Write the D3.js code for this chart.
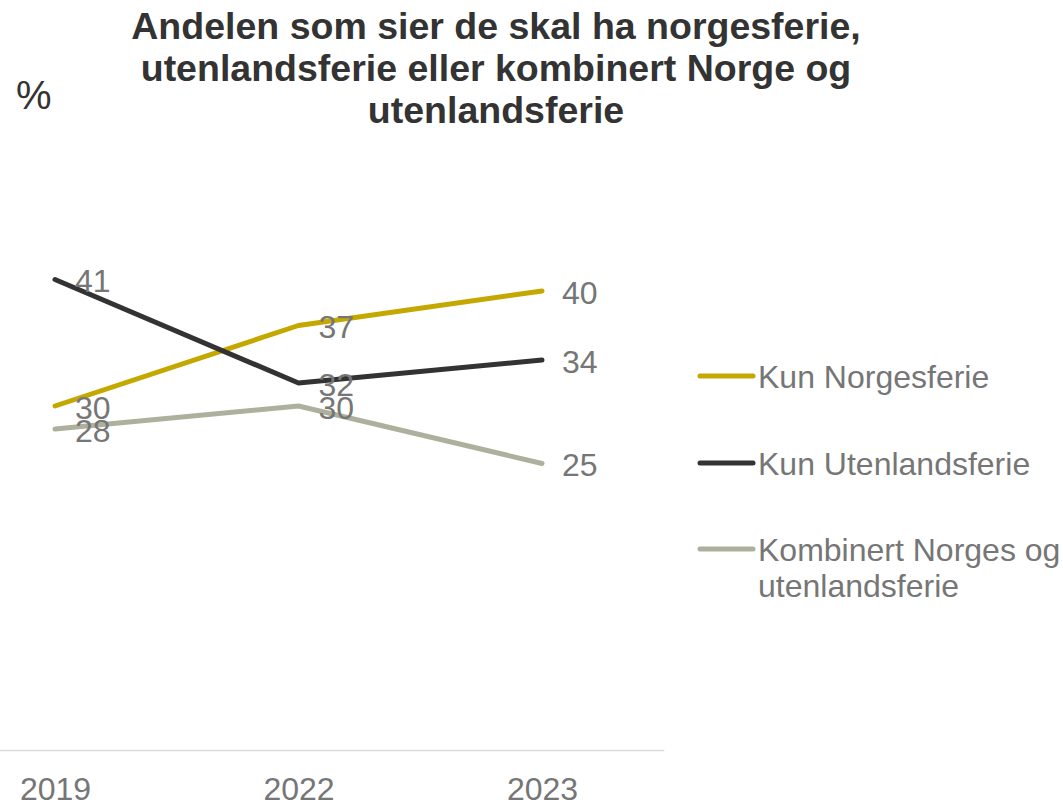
<!DOCTYPE html>
<html>
<head>
<meta charset="utf-8">
<script src="https://cdn.jsdelivr.net/npm/d3@7"></script>
<style>
  html, body { margin: 0; padding: 0; background: #ffffff; }
  svg { display: block; font-family: "Liberation Sans", Arial, sans-serif; }
</style>
</head>
<body>
<svg id="chart" width="1063" height="803"></svg>
<script>
// ---- data ----
const years = ["2019", "2022", "2023"];
const kunNorgesferie = [30, 37, 40];
const kunUtenlandsferie = [41, 32, 34];
const kombinert = [28, 30, 25];
const seriesNames = ["Kun Norgesferie", "Kun Utenlandsferie", "Kombinert Norges og utenlandsferie"];
const legendLines = [["Kun Norgesferie"], ["Kun Utenlandsferie"], ["Kombinert Norges og", "utenlandsferie"]];
const seriesColors = ["#C4A800", "#333333", "#AEB09E"];
const titleLines = ["Andelen som sier de skal ha norgesferie,", "utenlandsferie eller kombinert Norge og", "utenlandsferie"];

const series = [kunNorgesferie, kunUtenlandsferie, kombinert];

const svg = d3.select("#chart");

// scales
const x = d3.scalePoint().domain(years).range([-66.75, 663.75]).padding(0.5);
const y = d3.scaleLinear().domain([0, 60]).range([751, 61]);

// title
svg.append("text")
  .attr("x", 496).attr("y", 39)
  .attr("text-anchor", "middle")
  .attr("font-size", 37.5).attr("font-weight", "bold").attr("fill", "#333333")
  .selectAll("tspan").data(titleLines).join("tspan")
  .attr("x", 496).attr("dy", (d, i) => i === 0 ? 0 : 42)
  .text(d => d);

// percent sign
svg.append("text")
  .attr("x", 16).attr("y", 109)
  .attr("font-size", 40).attr("fill", "#333333")
  .text("%");

// x axis
const axis = svg.append("g")
  .attr("transform", "translate(0,750)")
  .call(d3.axisBottom(x).tickSize(0).tickPadding(0));
axis.select(".domain").attr("stroke", "#D9D9D9").attr("stroke-width", 1.5);
axis.selectAll(".tick text")
  .attr("y", 50).attr("dy", 0)
  .attr("font-size", 32).attr("fill", "#767676")
  .attr("font-family", "'Liberation Sans', Arial, sans-serif");

// lines
const line = d3.line().x((d, i) => x(years[i])).y(d => y(d));
svg.append("g").selectAll("path").data(series).join("path")
  .attr("d", d => line(d))
  .attr("fill", "none")
  .attr("stroke", (d, i) => seriesColors[i])
  .attr("stroke-width", 5)
  .attr("stroke-linecap", "round")
  .attr("stroke-linejoin", "round");

// data labels
const labels = svg.append("g");
series.forEach((s, si) => {
  labels.selectAll(null).data(s).join("text")
    .attr("x", (d, i) => x(years[i]) + 20)
    .attr("y", d => y(d) + 12.5)
    .attr("font-size", 32)
    .attr("fill", "#767676")
    .text(d => d);
});

// legend
const legend = svg.append("g");
const legendY = [376, 463, 549];
legendLines.forEach((lines, i) => {
  const g = legend.append("g").attr("transform", `translate(0,${legendY[i]})`);
  g.append("line")
    .attr("x1", 700).attr("x2", 753).attr("y1", 0).attr("y2", 0)
    .attr("stroke", seriesColors[i]).attr("stroke-width", 5)
    .attr("stroke-linecap", "round");
  const t = g.append("text")
    .attr("x", 758).attr("y", 11.5)
    .attr("font-size", 32).attr("fill", "#767676");
  t.selectAll("tspan").data(lines).join("tspan")
    .attr("x", 758).attr("dy", (d, j) => j === 0 ? 0 : 36)
    .text(d => d);
});
</script>
</body>
</html>
